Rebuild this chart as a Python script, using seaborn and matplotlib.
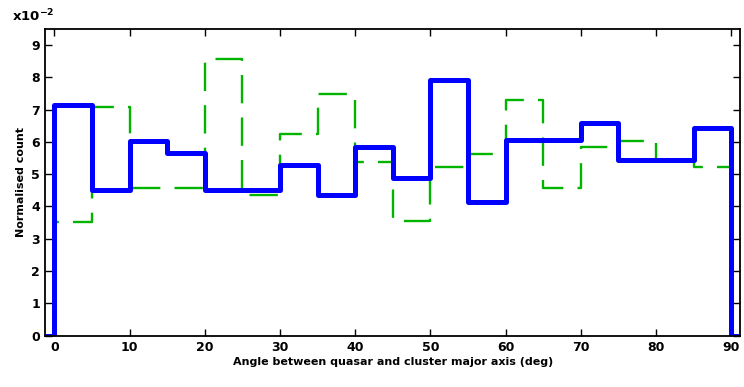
import numpy as np
import pandas as pd
import matplotlib
matplotlib.use('Agg')
import matplotlib.pyplot as plt
import seaborn as sns

# bin edges of 5 deg, normalised counts in units of 1e-2
bin_left = [0, 5, 10, 15, 20, 25, 30, 35, 40, 45, 50, 55, 60, 65, 70, 75, 80, 85]
quasar_blue = [7.16, 4.50, 6.03, 5.66, 4.50, 4.52, 5.28, 4.35, 5.85,
               4.89, 7.92, 4.14, 6.06, 6.06, 6.59, 5.43, 5.43, 6.42]
random_green = [3.52, 7.09, 4.56, 4.56, 8.56, 4.37, 6.26, 7.48, 5.38,
                3.55, 5.23, 5.62, 7.30, 4.57, 5.85, 6.03, 5.41, 5.21]

df = pd.DataFrame({'angle': np.array(bin_left) + 2.5,
                   'blue': quasar_blue, 'green': random_green})
edges = list(range(-5, 96, 5))  # empty outer bins so the outline drops to zero

sns.set_style('ticks', {'axes.edgecolor': 'black', 'text.color': 'black',
                        'axes.labelcolor': 'black', 'xtick.color': 'black',
                        'ytick.color': 'black'})
plt.rcParams['font.family'] = ['DejaVu Sans']
plt.rcParams['font.weight'] = 'bold'

fig = plt.figure(figsize=(7.44, 3.87), dpi=100)
ax = fig.add_axes([0.061, 0.133, 0.934, 0.792])

sns.histplot(data=df, x='angle', weights='green', bins=edges, element='step',
             fill=False, color='#00b400', linewidth=1.7, linestyle=(0, (12, 6)), ax=ax)
sns.histplot(data=df, x='angle', weights='blue', bins=edges, element='step',
             fill=False, color='#0000ff', linewidth=3.6, ax=ax)

ax.set_xlim(-1.2, 91.2)
ax.set_ylim(0, 9.5)
ax.set_xticks(range(0, 91, 10))
ax.set_yticks(range(0, 10))
ax.tick_params(direction='in', top=True, right=True, length=5, width=1,
               labelsize=9, pad=4, colors='black')
for lab in ax.get_xticklabels() + ax.get_yticklabels():
    lab.set_fontweight('bold')
for s in ax.spines.values():
    s.set_linewidth(1.3)
    s.set_color('black')
    s.set_visible(True)

ax.set_xlabel('Angle between quasar and cluster major axis (deg)',
              fontsize=8, fontweight='bold', labelpad=2)
ax.set_ylabel('Normalised count', fontsize=8, fontweight='bold', labelpad=4)
ax.text(-0.048, 1.015, 'x10$^{-2}$', transform=ax.transAxes, fontsize=9.5,
        fontweight='bold', ha='left', va='bottom')

fig.savefig('out.png', dpi=100)
